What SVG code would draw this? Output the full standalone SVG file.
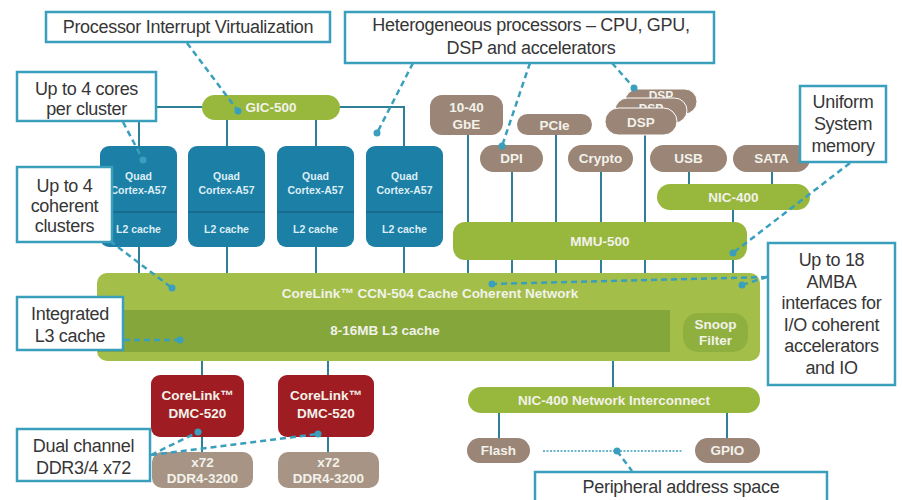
<svg xmlns="http://www.w3.org/2000/svg" width="902" height="500" viewBox="0 0 902 500">
<defs>
<style>
.call{fill:#ffffff;stroke:#3a9fbd;stroke-width:2.5}
.ct{font-family:"Liberation Sans",Arial,sans-serif;font-size:18px;fill:#363636;text-anchor:middle;letter-spacing:-0.3px}
.ln{stroke:#2f7f96;stroke-width:2;fill:none}
.ld{stroke:#3a9fbd;stroke-width:2.5;stroke-dasharray:6,4;fill:none}
.dot{fill:#3a9fbd}
.grn{fill:#98b73d}
.brn{fill:#9a8577}
.blu{fill:#1c7fa6}
.red{fill:#9f1c22}
.nt{font-family:"Liberation Sans",Arial,sans-serif;font-weight:bold;font-size:13.5px;fill:#f2f2ea;text-anchor:middle}
.nts{font-family:"Liberation Sans",Arial,sans-serif;font-weight:bold;font-size:10.5px;fill:#dceef5;text-anchor:middle}
</style>
</defs>
<rect width="902" height="500" fill="#ffffff"/>

<g id="connectors">
<path class="ln" d="M156,107 H202 M340,107 H404 V147"/>
<path class="ln" d="M139,107 V147 M227,120 V147 M316,120 V147"/>
<path class="ln" d="M139,247 V273 M227,247 V273 M316,247 V273 M404,247 V273"/>
<path class="ln" d="M468,135 V222 M512,172 V222 M556,135 V222 M601,172 V222 M645,135 V222"/>
<path class="ln" d="M689,172 V184 M772,172 V184 M733,210 V222"/>
<path class="ln" d="M468,260 V273 M512,260 V273 M556,260 V273 M601,260 V273 M645,260 V273 M733,260 V273"/>
<path class="ln" d="M202,360 V375 M328,360 V375 M202,437 V452 M328,437 V452"/>
<path class="ln" d="M613,360 V387 M499,413 V438 M727,413 V438"/>
<path d="M543,451 H683" stroke="#3a9fbd" stroke-width="1.5" stroke-dasharray="2,1.5" fill="none"/>
</g>

<g id="nodes">
<g id="gic500"><rect class="grn" x="202" y="95" width="138" height="25" rx="12.5"/><text class="nt" x="271" y="112">GIC-500</text></g>
<g id="cluster1"><rect class="blu" x="100" y="146" width="77" height="101" rx="9"/><line x1="100" y1="212" x2="177" y2="212" stroke="#135b78" stroke-width="1"/><text class="nts" x="138.5" y="180">Quad</text><text class="nts" x="138.5" y="194">Cortex-A57</text><text class="nts" x="138.5" y="233">L2 cache</text></g>
<g id="cluster2"><rect class="blu" x="188" y="146" width="77" height="101" rx="9"/><line x1="188" y1="212" x2="265" y2="212" stroke="#135b78" stroke-width="1"/><text class="nts" x="226.5" y="180">Quad</text><text class="nts" x="226.5" y="194">Cortex-A57</text><text class="nts" x="226.5" y="233">L2 cache</text></g>
<g id="cluster3"><rect class="blu" x="277" y="146" width="77" height="101" rx="9"/><line x1="277" y1="212" x2="354" y2="212" stroke="#135b78" stroke-width="1"/><text class="nts" x="315.5" y="180">Quad</text><text class="nts" x="315.5" y="194">Cortex-A57</text><text class="nts" x="315.5" y="233">L2 cache</text></g>
<g id="cluster4"><rect class="blu" x="366" y="146" width="77" height="101" rx="9"/><line x1="366" y1="212" x2="443" y2="212" stroke="#135b78" stroke-width="1"/><text class="nts" x="404.5" y="180">Quad</text><text class="nts" x="404.5" y="194">Cortex-A57</text><text class="nts" x="404.5" y="233">L2 cache</text></g>

<g id="gbe"><rect class="brn" x="430" y="95" width="73" height="40" rx="12"/><text class="nt" x="466.5" y="112">10-40</text><text class="nt" x="466.5" y="129">GbE</text></g>
<g id="pcie"><rect class="brn" x="517" y="114" width="75" height="21" rx="10.5"/><text class="nt" x="554.5" y="130">PCIe</text></g>
<g id="dsp"><rect class="brn" x="625" y="89" width="72" height="25" rx="12.5" stroke="#ffffff" stroke-width="1"/><text class="nt" x="661" y="100" style="font-size:12px">DSP</text><rect class="brn" x="615" y="98" width="72" height="25" rx="12.5" stroke="#ffffff" stroke-width="1"/><text class="nt" x="651" y="113" style="font-size:12px">DSP</text><rect class="brn" x="605" y="108" width="72" height="27" rx="13.5" stroke="#ffffff" stroke-width="1"/><text class="nt" x="641" y="127">DSP</text></g>
<g id="dpi"><rect class="brn" x="480" y="145" width="63" height="27" rx="13.5"/><text class="nt" x="511.5" y="163">DPI</text></g>
<g id="crypto"><rect class="brn" x="568" y="145" width="65" height="27" rx="13.5"/><text class="nt" x="600.5" y="163">Crypto</text></g>
<g id="usb"><rect class="brn" x="650" y="145" width="77" height="27" rx="13.5"/><text class="nt" x="688.5" y="163">USB</text></g>
<g id="sata"><rect class="brn" x="733" y="145" width="77" height="27" rx="13.5"/><text class="nt" x="771.5" y="163">SATA</text></g>
<g id="nic400a"><rect class="grn" x="657" y="184" width="153" height="26" rx="13"/><text class="nt" x="733.5" y="202">NIC-400</text></g>
<g id="mmu500"><rect class="grn" x="453" y="222" width="294" height="38" rx="12"/><text class="nt" x="600" y="246">MMU-500</text></g>

<g id="ccn504"><rect x="97" y="273" width="663" height="88" rx="10" fill="#a3bf4a"/><rect x="98" y="310" width="572" height="42" fill="#84a63a"/><rect x="683" y="313" width="65" height="39" rx="15" fill="#8fb03e"/><text class="nt" x="430" y="298">CoreLink™ CCN-504 Cache Coherent Network</text><text class="nt" x="385" y="335">8-16MB L3 cache</text><text class="nt" x="715.5" y="329">Snoop</text><text class="nt" x="715.5" y="345">Filter</text></g>

<g id="dmc1"><rect class="red" x="151" y="375" width="93" height="62" rx="9"/><text class="nt" x="197.5" y="400">CoreLink™</text><text class="nt" x="197.5" y="418">DMC-520</text></g>
<g id="dmc2"><rect class="red" x="278" y="375" width="96" height="62" rx="9"/><text class="nt" x="326" y="400">CoreLink™</text><text class="nt" x="326" y="418">DMC-520</text></g>
<g id="ddr1"><rect x="152" y="452" width="101" height="36" rx="10" fill="#a89484"/><text class="nt" x="202.5" y="467">x72</text><text class="nt" x="202.5" y="483">DDR4-3200</text></g>
<g id="ddr2"><rect x="278" y="452" width="101" height="36" rx="10" fill="#a89484"/><text class="nt" x="328.5" y="467">x72</text><text class="nt" x="328.5" y="483">DDR4-3200</text></g>

<g id="nic400ni"><rect class="grn" x="468" y="387" width="292" height="26" rx="13"/><text class="nt" x="614" y="405">NIC-400 Network Interconnect</text></g>
<g id="flash"><rect class="brn" x="467" y="438" width="63" height="25" rx="12.5"/><text class="nt" x="498.5" y="455">Flash</text></g>
<g id="gpio"><rect class="brn" x="695" y="438" width="65" height="25" rx="12.5"/><text class="nt" x="727.5" y="455">GPIO</text></g>
</g>

<g id="callouts">
<g id="c-piv"><rect class="call" x="46" y="12" width="284" height="30"/><text class="ct" x="188" y="33">Processor Interrupt Virtualization</text></g>
<g id="c-het"><rect class="call" x="345" y="12" width="369" height="51"/><text class="ct" x="531" y="31">Heterogeneous processors – CPU, GPU,</text><text class="ct" x="531" y="54">DSP and accelerators</text></g>
<g id="c-cores"><rect class="call" x="17" y="72" width="139" height="49"/><text class="ct" x="86.5" y="95">Up to 4 cores</text><text class="ct" x="86.5" y="115">per cluster</text></g>
<g id="c-clusters"><rect class="call" x="17" y="167" width="95" height="75"/><text class="ct" x="64.5" y="192">Up to 4</text><text class="ct" x="64.5" y="212">coherent</text><text class="ct" x="64.5" y="232">clusters</text></g>
<g id="c-l3"><rect class="call" x="17" y="297" width="106" height="53"/><text class="ct" x="70" y="320">Integrated</text><text class="ct" x="70" y="342">L3 cache</text></g>
<g id="c-ddr"><rect class="call" x="17" y="429" width="133" height="52"/><text class="ct" x="83.5" y="452">Dual channel</text><text class="ct" x="83.5" y="474">DDR3/4 x72</text></g>
<g id="c-usm"><rect class="call" x="800" y="86" width="86" height="76"/><text class="ct" x="843" y="108">Uniform</text><text class="ct" x="843" y="130">System</text><text class="ct" x="843" y="152">memory</text></g>
<g id="c-amba"><rect class="call" x="768" y="243" width="127" height="142"/><text class="ct" x="831.5" y="266">Up to 18</text><text class="ct" x="831.5" y="288">AMBA</text><text class="ct" x="831.5" y="309">interfaces for</text><text class="ct" x="831.5" y="331">I/O coherent</text><text class="ct" x="831.5" y="352">accelerators</text><text class="ct" x="831.5" y="374">and IO</text></g>
<g id="c-periph"><rect class="call" x="535" y="472" width="292" height="34"/><text class="ct" x="681" y="493">Peripheral address space</text></g>
</g>

<g id="leaders">
<path class="ld" d="M187,43 L238,111"/><circle class="dot" cx="238" cy="111" r="3.5"/>
<path class="ld" d="M413,63 L377,133"/><circle class="dot" cx="377" cy="133" r="3.5"/>
<path class="ld" d="M530,63 L502,146"/><circle class="dot" cx="502" cy="146" r="3.5"/>
<path class="ld" d="M612,63 L634,88"/><circle class="dot" cx="634" cy="88" r="3.5"/>
<path class="ld" d="M123,122 L143,160"/><circle class="dot" cx="143" cy="160" r="3.5"/>
<path class="ld" d="M110,241 L172,288"/><circle class="dot" cx="172" cy="288" r="3.5"/>
<path class="ld" d="M124,340 L180,340"/><circle class="dot" cx="180" cy="340" r="3.5"/>
<path class="ld" d="M151,455 L198,432 M151,455 L318,434"/><circle class="dot" cx="198" cy="432" r="3.5"/><circle class="dot" cx="318" cy="434" r="3.5"/>
<path class="ld" d="M850,163 L733,253"/><circle class="dot" cx="733" cy="253" r="3.5"/>
<path class="ld" d="M767,277 L742,285 M767,277 L492,284"/><circle class="dot" cx="742" cy="285" r="3.5"/><circle class="dot" cx="492" cy="284" r="3.5"/>
<path class="ld" d="M617,451 L632,471"/><circle class="dot" cx="617" cy="451" r="3.5"/>
</g>
</svg>
